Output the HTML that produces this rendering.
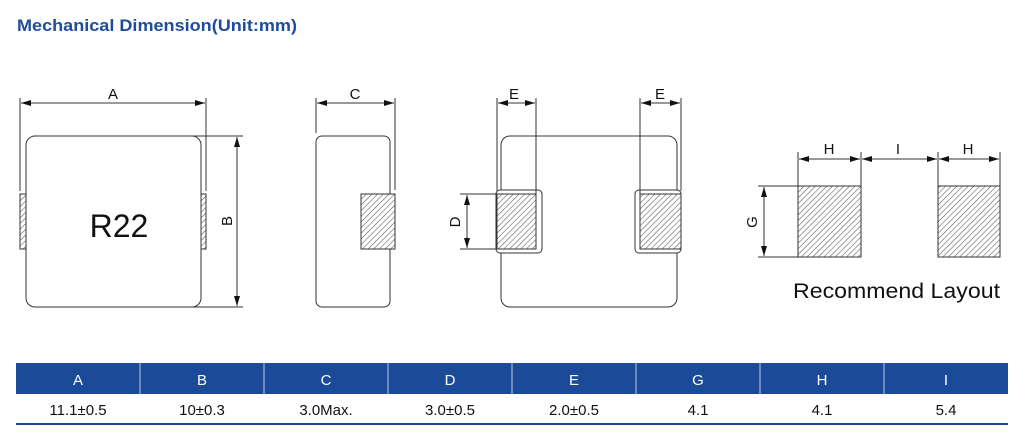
<!DOCTYPE html>
<html><head><meta charset="utf-8"><style>
body{margin:0;width:1024px;height:441px;background:#fff;overflow:hidden;font-family:"Liberation Sans",sans-serif}
svg{position:absolute;left:0;top:0}
</style></head><body>
<svg width="1024" height="441" viewBox="0 0 1024 441" xmlns="http://www.w3.org/2000/svg">
<defs>
<pattern id="h" patternUnits="userSpaceOnUse" width="4" height="4" patternTransform="rotate(45)">
<rect width="4" height="4" fill="#fff"/><line x1="0" y1="0" x2="0" y2="4" stroke="#555" stroke-width="1.1"/>
</pattern>
<marker id="ar" viewBox="0 0 10 6" refX="10" refY="3" markerWidth="10" markerHeight="6" orient="auto-start-reverse" markerUnits="userSpaceOnUse">
<path d="M0,0 L10,3 L0,6 z" fill="#111"/></marker>
</defs>
<text x="17" y="31" font-size="17" font-weight="bold" fill="#1f4c9c" textLength="280" lengthAdjust="spacingAndGlyphs">Mechanical Dimension(Unit:mm)</text>
<g fill="none" stroke="#333" stroke-width="1">
<rect x="26" y="136" width="175" height="171" rx="9" fill="#fff"/>
<rect x="20" y="194" width="6" height="55" fill="url(#h)"/>
<rect x="201" y="194" width="5" height="55" fill="url(#h)"/>
<line x1="20" y1="98" x2="20" y2="191"/><line x1="206" y1="98" x2="206" y2="191"/>
<line x1="21" y1="103" x2="205" y2="103" marker-start="url(#ar)" marker-end="url(#ar)"/>
<line x1="192" y1="136" x2="243" y2="136"/><line x1="192" y1="307" x2="243" y2="307"/>
<line x1="237" y1="137" x2="237" y2="306" marker-start="url(#ar)" marker-end="url(#ar)"/>
<rect x="316" y="136" width="74" height="171" rx="6" fill="#fff"/>
<rect x="361" y="194" width="34" height="55" fill="url(#h)"/>
<line x1="316" y1="98" x2="316" y2="133"/><line x1="395" y1="98" x2="395" y2="190"/>
<line x1="317" y1="103" x2="394" y2="103" marker-start="url(#ar)" marker-end="url(#ar)"/>
<rect x="501" y="136" width="176" height="171" rx="9" fill="#fff"/>
<rect x="496" y="190" width="46" height="63" rx="4" fill="#fff"/>
<rect x="635" y="190" width="46" height="63" rx="4" fill="#fff"/>
<rect x="497" y="194" width="39" height="55" fill="url(#h)"/>
<rect x="640" y="194" width="41" height="55" fill="url(#h)"/>
<line x1="497" y1="98" x2="497" y2="191"/><line x1="536" y1="98" x2="536" y2="194"/>
<line x1="498" y1="103" x2="535" y2="103" marker-start="url(#ar)" marker-end="url(#ar)"/>
<line x1="640" y1="98" x2="640" y2="194"/><line x1="681" y1="98" x2="681" y2="191"/>
<line x1="641" y1="103" x2="680" y2="103" marker-start="url(#ar)" marker-end="url(#ar)"/>
<line x1="460" y1="194" x2="497" y2="194"/><line x1="460" y1="249" x2="497" y2="249"/>
<line x1="467" y1="195" x2="467" y2="248" marker-start="url(#ar)" marker-end="url(#ar)"/>
<rect x="798" y="186" width="63" height="71" fill="url(#h)"/>
<rect x="938" y="186" width="62" height="71" fill="url(#h)"/>
<line x1="798" y1="152" x2="798" y2="186"/><line x1="861" y1="152" x2="861" y2="186"/>
<line x1="938" y1="152" x2="938" y2="186"/><line x1="1000" y1="152" x2="1000" y2="186"/>
<line x1="799" y1="159" x2="860" y2="159" marker-start="url(#ar)" marker-end="url(#ar)"/>
<line x1="862" y1="159" x2="937" y2="159" marker-start="url(#ar)" marker-end="url(#ar)"/>
<line x1="939" y1="159" x2="999" y2="159" marker-start="url(#ar)" marker-end="url(#ar)"/>
<line x1="758" y1="186" x2="798" y2="186"/><line x1="758" y1="257" x2="798" y2="257"/>
<line x1="764" y1="187" x2="764" y2="256" marker-start="url(#ar)" marker-end="url(#ar)"/>
</g>
<g font-size="15" fill="#111" text-anchor="middle">
<text x="113" y="99">A</text>
<text x="355" y="99">C</text>
<text x="514" y="99">E</text>
<text x="660" y="99">E</text>
<text x="829" y="154">H</text>
<text x="898" y="154">I</text>
<text x="968" y="154">H</text>
<text transform="translate(232,221) rotate(-90)">B</text>
<text transform="translate(460,222) rotate(-90)">D</text>
<text transform="translate(757,222) rotate(-90)">G</text>
</g>
<text x="119" y="237" font-size="32" fill="#111" text-anchor="middle">R22</text>
<text x="793" y="298" font-size="21" fill="#111" textLength="207" lengthAdjust="spacingAndGlyphs">Recommend Layout</text>
<rect x="16" y="363" width="992" height="31" fill="#1a4a98"/>
<g stroke="#fff" stroke-width="1" opacity="0.7">
<line x1="140" y1="363" x2="140" y2="394"/><line x1="264" y1="363" x2="264" y2="394"/>
<line x1="388" y1="363" x2="388" y2="394"/><line x1="512" y1="363" x2="512" y2="394"/>
<line x1="636" y1="363" x2="636" y2="394"/><line x1="760" y1="363" x2="760" y2="394"/>
<line x1="884" y1="363" x2="884" y2="394"/>
</g>
<rect x="16" y="423" width="992" height="2" fill="#1a4a98"/>
<g font-size="15" text-anchor="middle" fill="#fff">
<text x="78" y="385">A</text><text x="202" y="385">B</text><text x="326" y="385">C</text><text x="450" y="385">D</text>
<text x="574" y="385">E</text><text x="698" y="385">G</text><text x="822" y="385">H</text><text x="946" y="385">I</text>
</g>
<g font-size="15" text-anchor="middle" fill="#111">
<text x="78" y="415">11.1±0.5</text><text x="202" y="415">10±0.3</text><text x="326" y="415">3.0Max.</text><text x="450" y="415">3.0±0.5</text>
<text x="574" y="415">2.0±0.5</text><text x="698" y="415">4.1</text><text x="822" y="415">4.1</text><text x="946" y="415">5.4</text>
</g>
</svg>
</body></html>
